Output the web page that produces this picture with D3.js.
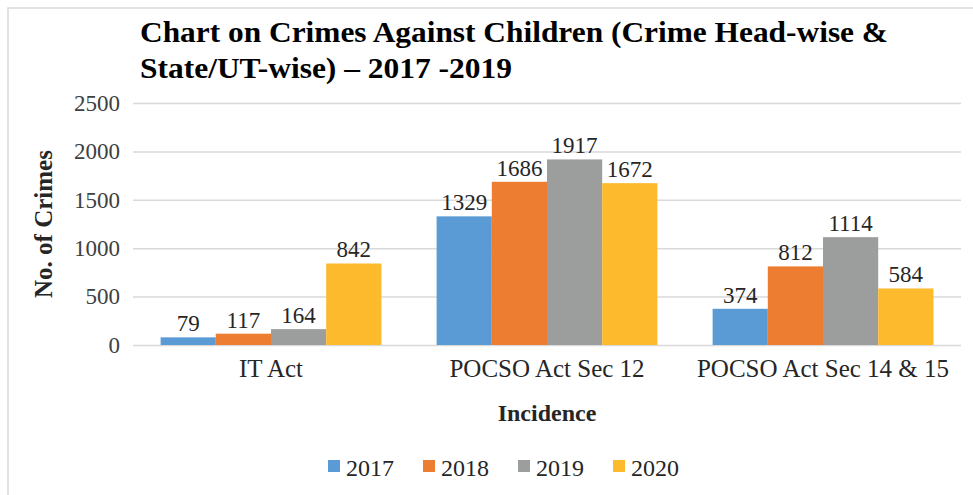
<!DOCTYPE html>
<html>
<head>
<meta charset="utf-8">
<script src="https://cdn.jsdelivr.net/npm/d3@7"></script>
<style>
  html, body { margin: 0; padding: 0; background: #fff; }
</style>
</head>
<body>
<div id="chart"></div>
<script>
const categories = ["IT Act", "POCSO Act Sec 12", "POCSO Act Sec 14 & 15"]
const years = ["2017", "2018", "2019", "2020"]
const values2017 = [79, 1329, 374]
const values2018 = [117, 1686, 812]
const values2019 = [164, 1917, 1114]
const values2020 = [842, 1672, 584]
const yTicks = [0, 500, 1000, 1500, 2000, 2500]
const colors = ["#5b9bd5", "#ed7d31", "#9c9e9e", "#fdba2c"]

const FONT = "'Times New Roman', 'Liberation Serif', Tinos, 'DejaVu Serif', serif"

const series = [values2017, values2018, values2019, values2020]
const rows = categories.map((c, i) => ({
  category: c,
  values: years.map((y, j) => ({ year: y, value: series[j][i] }))
}))

const width = 973
const height = 495
const margin = { top: 103, right: 12, bottom: 150, left: 133 }

const svg = d3.select("#chart")
  .append("svg")
  .attr("width", width)
  .attr("height", height)
  .style("font-family", FONT)

// frame
svg.append("path")
  .attr("d", `M8,${height} L8,8 L${width},8`)
  .attr("fill", "none")
  .attr("stroke", "#d9d9d9")
  .attr("stroke-width", 1.5)

const x = d3.scaleBand()
  .domain(categories)
  .range([margin.left, width - margin.right])
  .paddingInner(0.2)
  .paddingOuter(0.1)

const xInner = d3.scaleBand()
  .domain(years)
  .range([0, x.bandwidth()])

const y = d3.scaleLinear()
  .domain([0, 2500])
  .range([345, margin.top])

// title
const title = svg.append("g")
  .style("font-family", FONT)
  .attr("font-weight", "bold")
  .attr("font-size", 29)
  .attr("fill", "#000")
title.append("text")
  .attr("x", 140).attr("y", 42)
  .attr("textLength", 748)
  .attr("lengthAdjust", "spacingAndGlyphs")
  .text("Chart on Crimes Against Children (Crime Head-wise &")
title.append("text")
  .attr("x", 140).attr("y", 78)
  .attr("textLength", 372)
  .attr("lengthAdjust", "spacingAndGlyphs")
  .text("State/UT-wise) – 2017 -2019")

// grid + y axis
const yAxis = svg.append("g")
  .attr("transform", `translate(${margin.left},0)`)
  .call(d3.axisLeft(y).tickValues(yTicks).tickFormat(d3.format("d"))
    .tickSize(-(width - margin.right - margin.left)).tickPadding(13))
yAxis.select(".domain").remove()
yAxis.selectAll(".tick line").attr("stroke", "#d9d9d9").attr("stroke-width", 1.5)
yAxis.selectAll(".tick text")
  .style("font-family", FONT)
  .attr("font-size", 23)
  .attr("fill", "#404040")

// bars
const groups = svg.append("g")
  .selectAll("g")
  .data(rows)
  .join("g")
  .attr("transform", d => `translate(${x(d.category)},0)`)

groups.selectAll("rect")
  .data(d => d.values)
  .join("rect")
  .attr("x", d => xInner(d.year))
  .attr("y", d => y(d.value))
  .attr("width", xInner.bandwidth())
  .attr("height", d => y(0) - y(d.value))
  .attr("fill", (d, i) => colors[i])

groups.selectAll("text")
  .data(d => d.values)
  .join("text")
  .style("font-family", FONT)
  .attr("x", d => xInner(d.year) + xInner.bandwidth() / 2)
  .attr("y", d => y(d.value) - 6)
  .attr("text-anchor", "middle")
  .attr("font-size", 23)
  .attr("fill", "#262626")
  .text(d => d.value)

// x axis labels
const xAxis = svg.append("g")
  .attr("transform", `translate(0,${y(0)})`)
  .call(d3.axisBottom(x).tickSize(0).tickPadding(14))
xAxis.select(".domain").remove()
xAxis.selectAll(".tick text")
  .style("font-family", FONT)
  .attr("font-size", 25)
  .attr("fill", "#262626")

// axis titles
svg.append("text")
  .style("font-family", FONT)
  .attr("x", x.range()[0] + (x.range()[1] - x.range()[0]) / 2)
  .attr("y", 421)
  .attr("text-anchor", "middle")
  .attr("font-weight", "bold")
  .attr("font-size", 24)
  .attr("fill", "#262626")
  .text("Incidence")

svg.append("text")
  .style("font-family", FONT)
  .attr("transform", `translate(52,${(y(0) + y(2500)) / 2}) rotate(-90)`)
  .attr("text-anchor", "middle")
  .attr("font-weight", "bold")
  .attr("font-size", 25)
  .attr("fill", "#262626")
  .text("No. of Crimes")

// legend
const legend = svg.append("g")
  .selectAll("g")
  .data(years)
  .join("g")
  .attr("transform", (d, i) => `translate(${328 + i * 95},460)`)
legend.append("rect")
  .attr("width", 12).attr("height", 12)
  .attr("fill", (d, i) => colors[i])
legend.append("text")
  .style("font-family", FONT)
  .attr("x", 18).attr("y", 16)
  .attr("font-size", 24)
  .attr("fill", "#262626")
  .text(d => d)
</script>
</body>
</html>
